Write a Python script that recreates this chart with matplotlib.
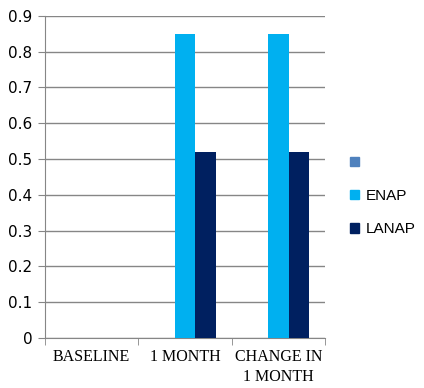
import numpy as np
import matplotlib
matplotlib.use("Agg")
import matplotlib.pyplot as plt
from matplotlib.patches import Patch

# data
categories = ["BASELINE", "1 MONTH", "CHANGE IN\n1 MONTH"]
series_names = ["", "ENAP", "LANAP"]
blank = [0, 0, 0]
enap = [0, 0.85, 0.85]
lanap = [0, 0.52, 0.52]
colors = ["#4F81BD", "#00B0F0", "#002060"]
y_ticks = [0, 0.1, 0.2, 0.3, 0.4, 0.5, 0.6, 0.7, 0.8, 0.9]

fig = plt.figure(figsize=(4.24, 3.88), dpi=100)
ax = fig.add_axes([0.106, 0.129, 0.661, 0.830])

x = np.arange(len(categories))
w = 0.22
for i, vals in enumerate([blank, enap, lanap]):
    ax.bar(x + (i - 1) * w, vals, width=w, color=colors[i], zorder=3)

grid_c = "#868686"
ax.set_xlim(-0.5, 2.5)
ax.set_ylim(0, 0.9)
ax.set_yticks(y_ticks)
ax.set_yticklabels([f"{t:g}" for t in y_ticks], fontsize=11, family="DejaVu Sans")
ax.yaxis.grid(True, color=grid_c, linewidth=1, zorder=0)
ax.tick_params(axis="y", length=5, color=grid_c, pad=4)

ax.set_xticks(x)
ax.set_xticklabels(categories, fontsize=11.5, family="Liberation Serif", linespacing=1.35)
ax.tick_params(axis="x", length=0, pad=8)
ax.set_xticks([-0.5, 0.5, 1.5, 2.5], minor=True)
ax.tick_params(axis="x", which="minor", length=5, color=grid_c)

for s in ["top", "right"]:
    ax.spines[s].set_visible(False)
ax.spines["left"].set_color(grid_c)
ax.spines["bottom"].set_color(grid_c)

handles = [Patch(color=c) for c in colors]
fig.legend(handles, [" ", "ENAP", "LANAP"], loc="center left",
           bbox_to_anchor=(0.826, 0.495), frameon=False,
           prop={"family": "Liberation Sans", "size": 11},
           borderpad=0, borderaxespad=0,
           handlelength=0.6, handleheight=0.6, handletextpad=0.4,
           labelspacing=1.25)

fig.savefig("out.png", dpi=100)
